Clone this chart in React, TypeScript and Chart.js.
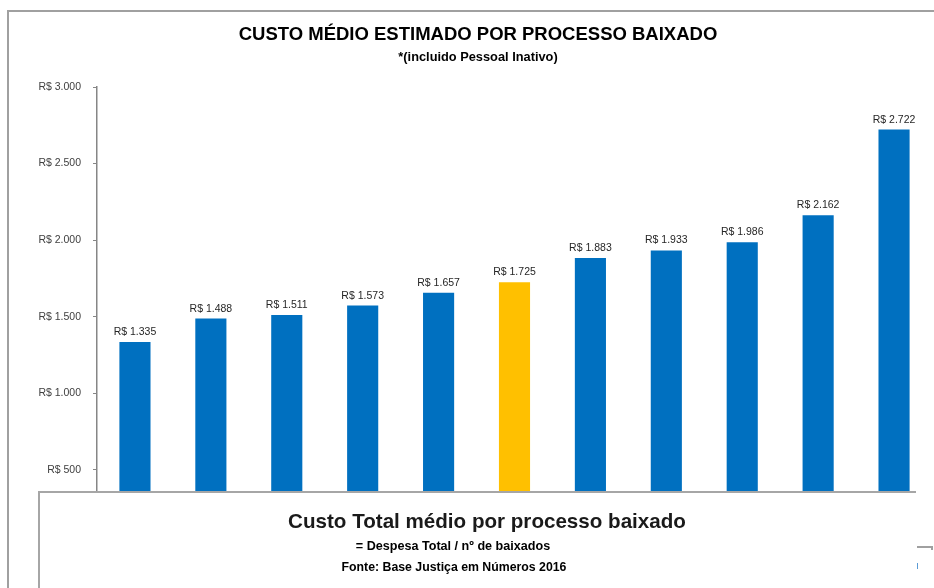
import React, { useEffect, useRef } from "react";
import { Chart, registerables } from "chart.js";

Chart.register(...registerables);

// ---- data ----
const categories = ["1", "2", "3", "4", "5", "6", "7", "8", "9", "10", "11"];
const values = [1335, 1488, 1511, 1573, 1657, 1725, 1883, 1933, 1986, 2162, 2722];
const highlightIndex = 5;
const yMin = 0;
const yMax = 3000;
const yStep = 500;

const titleText = "CUSTO MÉDIO ESTIMADO POR PROCESSO BAIXADO";
const subtitleText = "*(incluido Pessoal Inativo)";
const boxLine1 = "Custo Total médio por processo baixado";
const boxLine2 = "= Despesa Total / nº de baixados";
const boxLine3 = "Fonte: Base Justiça em Números 2016";

const BLUE = "#0070C0";
const YELLOW = "#FFC000";
const FONT = "'Liberation Sans', Arial, sans-serif";

const fmt = (v: number) =>
  "R$ " + Math.round(v).toString().replace(/\B(?=(\d{3})+(?!\d))/g, ".");

const valueLabels = {
  id: "valueLabels",
  afterDatasetsDraw(chart: any) {
    const ctx = chart.ctx;
    const meta = chart.getDatasetMeta(0);
    ctx.save();
    ctx.font = `10.5px ${FONT}`;
    ctx.fillStyle = "#262626";
    ctx.textAlign = "center";
    ctx.textBaseline = "alphabetic";
    meta.data.forEach((bar: any, i: number) => {
      ctx.fillText(fmt(values[i]), bar.x, bar.y - 7);
    });
    ctx.restore();
  },
};

function Text({ cx, cy, size, weight, children, lh, color }: any) {
  return (
    <div
      style={{
        position: "absolute",
        left: cx - 400,
        width: 800,
        top: cy - lh / 2,
        height: lh,
        lineHeight: lh + "px",
        textAlign: "center",
        fontFamily: FONT,
        fontSize: size,
        fontWeight: weight,
        color: color || "#000",
        whiteSpace: "nowrap",
      }}
    >
      {children}
    </div>
  );
}

export default function App() {
  const ref = useRef<HTMLCanvasElement>(null);

  useEffect(() => {
    if (!ref.current) return;
    const chart = new Chart(ref.current, {
      type: "bar",
      data: {
        labels: categories,
        datasets: [
          {
            data: values,
            backgroundColor: values.map((_, i) => (i === highlightIndex ? YELLOW : BLUE)),
            barPercentage: 0.41,
            categoryPercentage: 1,
          },
        ],
      },
      options: {
        responsive: false,
        animation: false,
        layout: { padding: { left: 0, top: 87, right: 2, bottom: 41.5 } },
        plugins: { legend: { display: false }, tooltip: { enabled: false } },
        scales: {
          x: { display: false },
          y: {
            min: yMin,
            max: yMax,
            ticks: {
              stepSize: yStep,
              callback: (v: any) => fmt(Number(v)),
              font: { family: FONT, size: 10.5 },
              color: "#404040",
              padding: 12,
            },
            grid: { drawOnChartArea: false, tickLength: 4, color: "#868686", lineWidth: 1 },
            border: { color: "#868686", width: 1.5 },
            afterFit: (scale: any) => {
              scale.width = 97;
            },
          },
        },
      },
      plugins: [valueLabels],
    });
    return () => chart.destroy();
  }, []);

  return (
    <div style={{ position: "fixed", left: 0, top: 0, width: 934, height: 588, background: "#fff", overflow: "hidden" }}>
      <canvas ref={ref} width={934} height={588} style={{ position: "absolute", left: 0, top: 0 }} />
      {/* outer frame */}
      <div style={{ position: "absolute", left: 7, top: 10, width: 927, height: 2, background: "#a0a0a0" }} />
      <div style={{ position: "absolute", left: 7, top: 10, width: 2, height: 578, background: "#a0a0a0" }} />
      <Text cx={478} cy={34} size={18.5} weight={700} lh={26}>{titleText}</Text>
      <Text cx={478} cy={57} size={12.8} weight={700} lh={16}>{subtitleText}</Text>
      {/* bottom box */}
      <div
        style={{
          position: "absolute",
          left: 38,
          top: 491,
          width: 878,
          height: 97,
          background: "#fff",
          borderTop: "2px solid #a6a6a6",
          borderLeft: "2px solid #a6a6a6",
          boxSizing: "border-box",
        }}
      />
      <Text cx={487} cy={521} size={20.6} weight={700} lh={26} color="#1a1a1a">{boxLine1}</Text>
      <Text cx={453} cy={546} size={12.6} weight={700} lh={16}>{boxLine2}</Text>
      <Text cx={454} cy={567} size={12.3} weight={700} lh={16}>{boxLine3}</Text>
      <div style={{ position: "absolute", left: 917, top: 546, width: 16, height: 2, background: "#a0a0a0" }} />
      <div style={{ position: "absolute", left: 931, top: 546, width: 2, height: 4, background: "#a0a0a0" }} />
      <div style={{ position: "absolute", left: 917, top: 563, width: 1, height: 6, background: "#5b9bd5" }} />
    </div>
  );
}
